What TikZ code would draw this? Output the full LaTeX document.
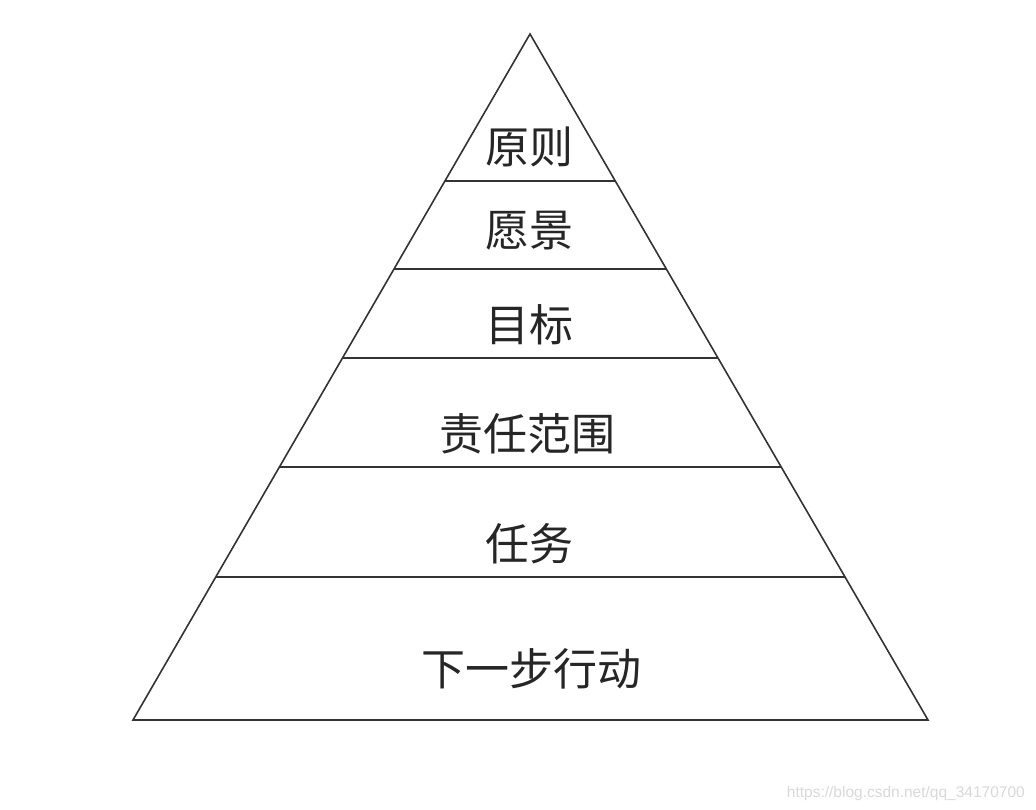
\documentclass[tikz,border=0pt]{standalone}
\usepackage{fontspec}
\newfontfamily\cjk{Noto Sans CJK SC}
\usetikzlibrary{calc}
\begin{document}
\begin{tikzpicture}[x=1pt,y=-1pt,
  edge/.style={draw=black!80,line width=1.6pt,line join=miter},
  level/.style={draw=black!80,line width=1.4pt},
  lbl/.style={font=\cjk\fontsize{44}{48}\selectfont,text=black!85,inner sep=0pt}]
\useasboundingbox[fill=white] (0,0) rectangle (1036,810);
\coordinate (apex) at (530,34);
\coordinate (bl) at (133,720);
\coordinate (br) at (928,720);
\draw[edge] (apex) -- (bl) -- (br) -- cycle;
\foreach \y/\n in {181/a,269/b,358/c,467/d,577/e}{
  \pgfmathsetmacro{\t}{(\y-34)/686}
  \coordinate (L\n) at ($(apex)!\t!(bl)$);
  \coordinate (R\n) at ($(apex)!\t!(br)$);
  \draw[level] (L\n) -- (R\n);
}
\node[lbl] (t1) at (529,147) {原则};
\node[lbl] (t2) at (529,231) {愿景};
\node[lbl] (t3) at (529,325) {目标};
\node[lbl] (t4) at (527,434) {责任范围};
\node[lbl] (t5) at (529,544) {任务};
\node[lbl] (t6) at (531,669) {下一步行动};
\node[font=\fontspec{Liberation Sans}\fontsize{15.5}{17}\selectfont,text=black!15,inner sep=0pt,anchor=east] (wm) at (1025,793) {https://blog.csdn.net/qq\_34170700};
\end{tikzpicture}
\end{document}
